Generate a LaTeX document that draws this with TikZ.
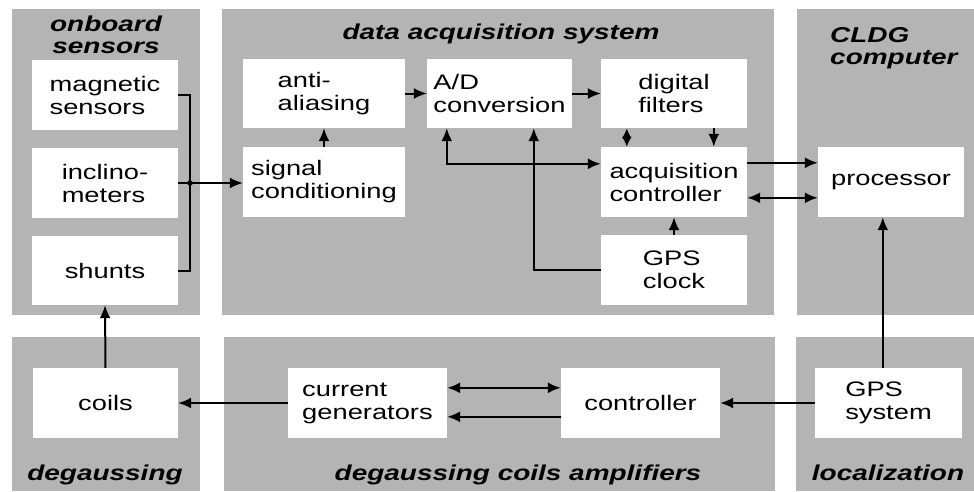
\documentclass[tikz,border=0pt]{standalone}
\usepackage{fontspec}
\setmainfont{Liberation Sans}[FakeStretch=1.3]
\usetikzlibrary{arrows.meta,calc}
\definecolor{panelgray}{RGB}{180,180,180}
\begin{document}
\begin{tikzpicture}[x=1pt,y=-1pt,
  box/.style={fill=white, draw=none, inner sep=0pt, align=left,
    font=\fontsize{21}{23}\selectfont},
  ttl/.style={inner sep=0pt, font=\fontsize{21.5}{22.5}\selectfont\bfseries\itshape},
  wire/.style={line width=2pt},
  conn/.style={wire, -{Latex[length=13pt,width=11pt]}},
  conn2/.style={wire, {Latex[length=13pt,width=11pt]}-{Latex[length=13pt,width=11pt]}},
  conn3/.style={wire, {Latex[length=10pt,width=10pt]}-{Latex[length=10pt,width=10pt]}}]
\useasboundingbox (0,0) rectangle (974,491);
% panels
\fill[panelgray] (12,9) rectangle (200,315);
\fill[panelgray] (222,9) rectangle (774,315);
\fill[panelgray] (797,9) rectangle (974,315);
\fill[panelgray] (12,337) rectangle (200,491);
\fill[panelgray] (224,337) rectangle (775,491);
\fill[panelgray] (796,337) rectangle (974,491);
% titles
\node[ttl, anchor=base] (t1a) at (106,31) {onboard};
\node[ttl, anchor=base] (t1b) at (106,53) {sensors};
\node[ttl, anchor=base] (t2) at (501,39) {data acquisition system};
\node[ttl, anchor=base west] (t3a) at (830,42) {CLDG};
\node[ttl, anchor=base west] (t3b) at (830,64) {computer};
\node[ttl, anchor=base] (t4) at (105,480) {degaussing};
\node[ttl, anchor=base] (t5) at (518,480) {degaussing coils amplifiers};
\node[ttl, anchor=base] (t6) at (888,480) {localization};
% boxes
\node[box, minimum width=146, minimum height=70] (mag) at (105,95) {magnetic\\sensors};
\node[box, minimum width=146, minimum height=70] (incl) at (105,183) {inclino-\\meters};
\node[box, minimum width=146, minimum height=69] (shunts) at (105,270.5) {shunts};
\node[box, minimum width=145, minimum height=70] (coils) at (105.5,403) {coils};
\node[box, minimum width=159, minimum height=70] (cg) at (367.5,403) {current\\generators};
\node[box, minimum width=159, minimum height=70] (ctrl) at (640.5,403) {controller};
\node[box, minimum width=147, minimum height=70] (gsys) at (888.5,403) {GPS\\system};
\node[box, minimum width=162, minimum height=69] (anti) at (324,93.5) {anti-\\aliasing};
\node[box, minimum width=162, minimum height=70] (sig) at (324,182) {signal\\conditioning};
\node[box, minimum width=145, minimum height=69] (ad) at (499.5,93.5) {A/D\\conversion};
\node[box, minimum width=146, minimum height=69] (dig) at (674,93.5) {digital\\filters};
\node[box, minimum width=146, minimum height=70] (acq) at (674,182) {acquisition\\controller};
\node[box, minimum width=146, minimum height=70] (gclk) at (674,270) {GPS\\clock};
\node[box, minimum width=146, minimum height=70] (proc) at (891,182) {processor};
% connectors
\coordinate (junc) at (190,183);
\draw[wire] (mag.east) -| (junc) |- (shunts.east);
\fill (junc) circle (2.8pt);
\draw[conn] (incl.east) -- (incl.east -| sig.west);
\draw[conn] (sig.north) -- (anti.south);
\draw[conn] (anti.east) -- (ad.west);
\draw[conn] (ad.east) -- (dig.west);
\draw[conn2] ($(ad.south west)+(20,0)$) |- ($(acq.north west)+(0,17)$);
\draw[conn] (gclk.west) -| ($(ad.south west)+(107,0)$);
\draw[conn3] ($(dig.south west)+(26,0)$) -- ($(acq.north west)+(26,0)$);
\draw[conn] ($(dig.south west)+(113,0)$) -- ($(acq.north west)+(113,0)$);
\draw[conn] (gclk.north) -- (acq.south);
\draw[conn] ($(acq.north east)+(0,16)$) -- ($(proc.north west)+(0,16)$);
\draw[conn2] ($(acq.north east)+(0,51)$) -- ($(proc.north west)+(0,51)$);
\coordinate (gtop) at ($(gsys.north west)+(68,0)$);
\draw[conn] (gtop) -- (gtop |- proc.south);
\draw[conn] (gsys.west) -- (ctrl.east);
\draw[conn2] ($(cg.north east)+(0,20)$) -- ($(ctrl.north west)+(0,20)$);
\draw[conn] ($(ctrl.north west)+(0,49)$) -- ($(cg.north east)+(0,49)$);
\draw[conn] (cg.west) -- (coils.east);
\draw[conn] (coils.north) -- (shunts.south);
\end{tikzpicture}
\end{document}
